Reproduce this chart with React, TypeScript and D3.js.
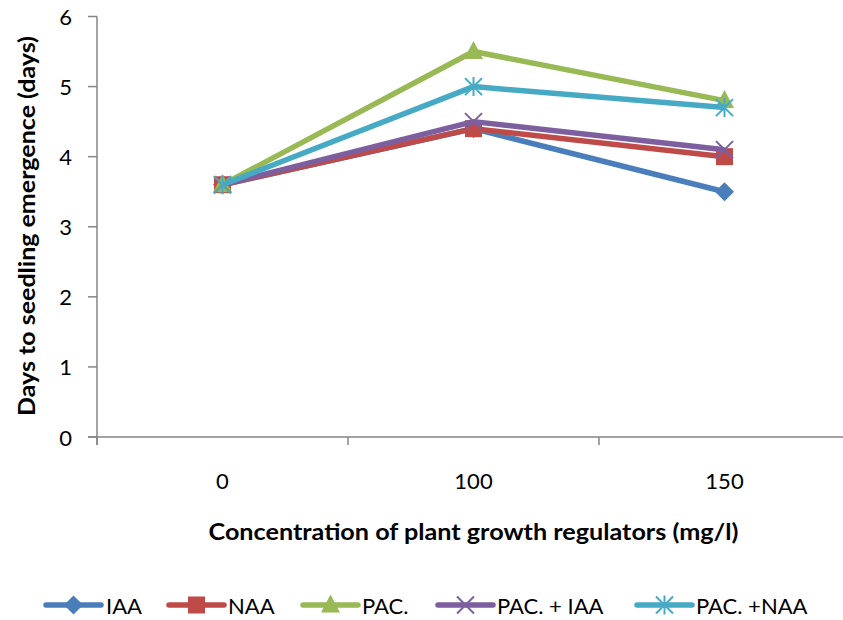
import React from "react";
import * as d3 from "d3";

const categories = ["0", "100", "150"];
const seriesNames = ["IAA", "NAA", "PAC.", "PAC. + IAA", "PAC. +NAA"];
const iaa = [3.6, 4.4, 3.5];
const naa = [3.6, 4.4, 4.0];
const pac = [3.6, 5.5, 4.8];
const pacIaa = [3.6, 4.5, 4.1];
const pacNaa = [3.6, 5.0, 4.7];
const yTicks = [0, 1, 2, 3, 4, 5, 6];
const colors = ["#4a7ebb", "#be4b48", "#98b954", "#7d5fa0", "#46aac5"];
const markers = ["diamond", "square", "triangle", "x", "star"];

const W = 843;
const H = 620;
const FONT = "Lato, 'Open Sans', sans-serif";

function Marker({ type, x, y, color }: { type: string; x: number; y: number; color: string }) {
  const s = 8.5;
  if (type === "diamond") {
    return <path d={`M${x},${y - s - 1}L${x + s + 1},${y}L${x},${y + s + 1}L${x - s - 1},${y}Z`} fill={color} />;
  }
  if (type === "square") {
    return <rect x={x - s} y={y - s} width={2 * s} height={2 * s} fill={color} />;
  }
  if (type === "triangle") {
    return <path d={`M${x},${y - s - 2}L${x + s + 1},${y + s - 1}L${x - s - 1},${y + s - 1}Z`} fill={color} />;
  }
  if (type === "x") {
    return (
      <path d={`M${x - s},${y - s}L${x + s},${y + s}M${x - s},${y + s}L${x + s},${y - s}`} stroke={color} strokeWidth={2} fill="none" />
    );
  }
  return (
    <path
      d={`M${x - s},${y - s}L${x + s},${y + s}M${x - s},${y + s}L${x + s},${y - s}M${x},${y - s - 1}L${x},${y + s + 1}`}
      stroke={color}
      strokeWidth={2}
      fill="none"
    />
  );
}

export default function App() {
  const allSeries = [iaa, naa, pac, pacIaa, pacNaa];
  const left = 97;
  const right = 850;
  const top = 16.5;
  const bottom = 437;
  const x = d3.scaleBand().domain(categories).range([left, right]);
  const y = d3.scaleLinear().domain([0, 6]).range([bottom, top]);
  const cx = (c: string) => (x(c) as number) + x.bandwidth() / 2;
  const line = d3
    .line<number>()
    .x((_, i) => cx(categories[i]))
    .y((v) => y(v));

  const axisColor = "#868686";
  const legendItems = [
    { lx: 46, tx: 106 },
    { lx: 169, tx: 228 },
    { lx: 303, tx: 362 },
    { lx: 438, tx: 497 },
    { lx: 637, tx: 696 },
  ];
  const legendY = 605;
  const boundaries = [left, ...categories.map((c) => (x(c) as number) + x.bandwidth())];

  return (
    <svg width={W} height={H} style={{ position: "absolute", left: 0, top: 0, background: "#fff" }}>
      <rect width={W} height={H} fill="#fff" />
      <line x1={left} x2={left} y1={top} y2={bottom + 8} stroke={axisColor} strokeWidth={1.5} />
      {yTicks.map((t) => (
        <g key={t}>
          <line x1={left - 9} x2={left} y1={y(t)} y2={y(t)} stroke={axisColor} strokeWidth={1.5} />
          <text x={72} y={y(t)} textAnchor="end" dominantBaseline="central" fontFamily={FONT} fontSize={22} fill="#000">
            {t}
          </text>
        </g>
      ))}
      <line x1={left - 9} x2={W} y1={bottom} y2={bottom} stroke={axisColor} strokeWidth={1.5} />
      {boundaries.map((b, i) => (
        <line key={i} x1={b} x2={b} y1={bottom} y2={bottom + 8} stroke={axisColor} strokeWidth={1.5} />
      ))}
      {categories.map((c) => (
        <text key={c} x={cx(c)} y={480} textAnchor="middle" dominantBaseline="central" fontFamily={FONT} fontSize={22} fill="#000">
          {c}
        </text>
      ))}
      <text
        x={cx(categories[1])}
        y={531}
        textAnchor="middle"
        dominantBaseline="central"
        fontFamily={FONT}
        fontSize={22}
        fontWeight="bold"
        fill="#000"
        textLength={530}
        lengthAdjust="spacingAndGlyphs"
      >
        Concentration of plant growth regulators (mg/l)
      </text>
      <text
        transform={`translate(26,226) rotate(-90)`}
        textAnchor="middle"
        dominantBaseline="central"
        fontFamily={FONT}
        fontSize={22}
        fontWeight="bold"
        fill="#000"
        textLength={380}
        lengthAdjust="spacingAndGlyphs"
      >
        Days to seedling emergence (days)
      </text>
      {allSeries.map((s, si) => (
        <g key={si}>
          <path d={line(s) as string} fill="none" stroke={colors[si]} strokeWidth={5.5} strokeLinejoin="round" />
          {s.map((v, i) => (
            <Marker key={i} type={markers[si]} x={cx(categories[i])} y={y(v)} color={colors[si]} />
          ))}
        </g>
      ))}
      {seriesNames.map((n, i) => {
        const it = legendItems[i];
        return (
          <g key={n}>
            <line x1={it.lx} x2={it.lx + 55} y1={legendY} y2={legendY} stroke={colors[i]} strokeWidth={5.5} strokeLinecap="round" />
            <Marker type={markers[i]} x={it.lx + 27.5} y={legendY} color={colors[i]} />
            <text x={it.tx} y={legendY} dominantBaseline="central" fontFamily={FONT} fontSize={22} fill="#000">
              {n}
            </text>
          </g>
        );
      })}
    </svg>
  );
}
